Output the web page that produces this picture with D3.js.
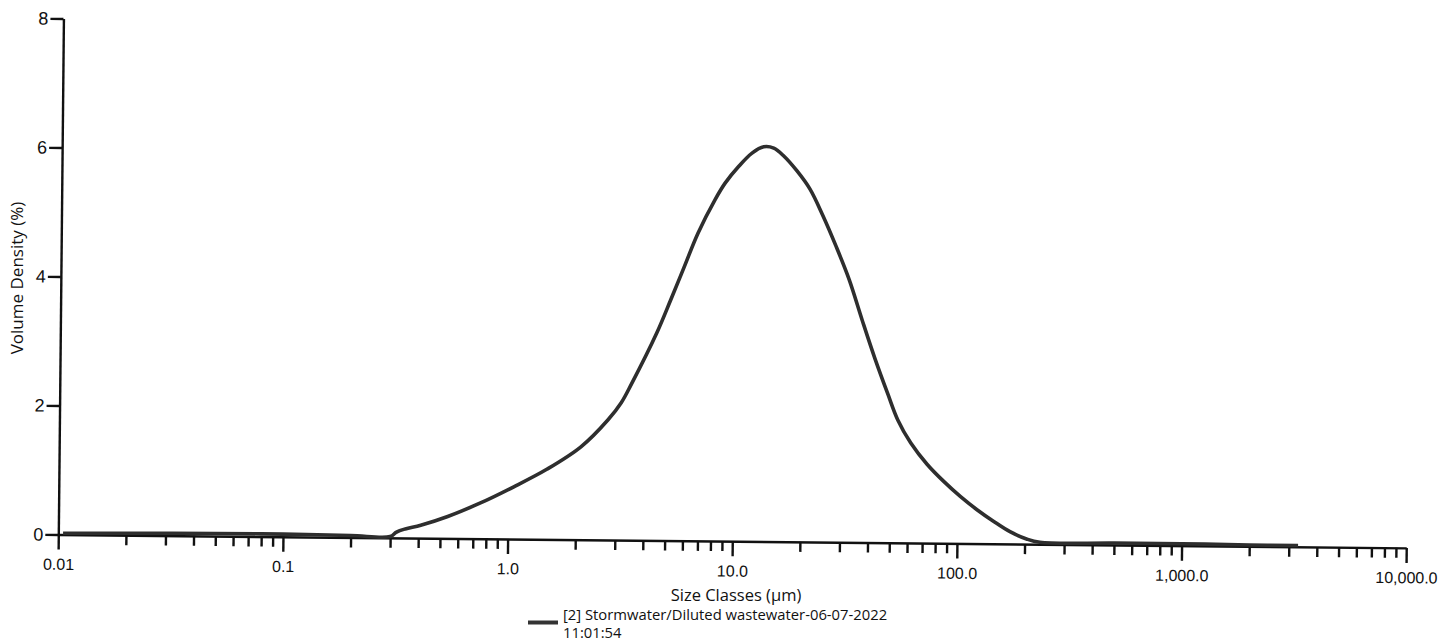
<!DOCTYPE html>
<html>
<head>
<meta charset="utf-8">
<style>
    body { margin: 0; background: #fff; }
    svg { display: block; font-family: "Open Sans", "Noto Sans", sans-serif; }
    .axis path, .axis line { stroke: #111; stroke-width: 2.4; }
    .axis text { fill: #111; }
</style>
</head>
<body>
<svg width="1439" height="641"></svg>
<script src="https://d3js.org/d3.v7.min.js"></script>
<script>
// particle size (µm) and volume density (%)
const sizes = [0.0105, 0.02, 0.05, 0.1, 0.2, 0.3, 0.32, 0.35, 0.41, 0.54, 0.75, 1.06, 1.49, 2.10, 2.76,
    3.16, 3.5, 4.52, 5.19, 5.95, 6.82, 8.09, 8.96, 10.27, 11.77, 13.27, 14.7, 16.3, 18.7, 21.4, 24.5,
    28.1, 32.3, 37.0, 42.4, 48.6, 53.8, 61.7, 73.2, 86.8, 103, 122, 145, 172, 204, 234,
    500, 1000, 2000, 3300];
const volumes = [0.02, 0.03, 0.04, 0.04, 0.03, 0.02, 0.09, 0.14, 0.20, 0.34, 0.55, 0.81, 1.09, 1.44, 1.86,
    2.13, 2.42, 3.22, 3.73, 4.25, 4.77, 5.29, 5.55, 5.81, 6.02, 6.12, 6.10, 5.98, 5.75, 5.47, 5.06,
    4.59, 4.07, 3.45, 2.85, 2.30, 1.91, 1.55, 1.22, 0.96, 0.73, 0.53, 0.35, 0.19, 0.08, 0.03,
    0.03, 0.03, 0.02, 0.02];

const xMajor = [0.01, 0.1, 1, 10, 100, 1000, 10000];
const xMajorLabels = ["0.01", "0.1", "1.0", "10.0", "100.0", "1,000.0", "10,000.0"];
const yTicks = [0, 2, 4, 6, 8];
const seriesName = ["[2] Stormwater/Diluted wastewater-06-07-2022", "11:01:54"];

let svg = d3.select("svg");

let width = 1348;
let height = 516;

let x = d3.scaleLog().domain([0.01, 10000]).range([0, width]);
let y = d3.scaleLinear().domain([0, 8]).range([0, -height]);

// minor ticks 2..9 in each decade
let xMinor = [];
for (let e = -2; e < 4; e++) {
    for (let m = 2; m <= 9; m++) xMinor.push(m * Math.pow(10, e));
}

// the scanned original is tilted a little, so the plot group is too
let g = svg.append("g")
    .attr("transform", "translate(58.3,534.5) rotate(0.57)");

g.append("g")
    .attr("class", "axis")
    .call(d3.axisBottom(x).tickValues(xMinor).tickSize(10).tickSizeOuter(0).tickFormat(""))
    .select(".domain").remove();

g.append("g")
    .attr("class", "axis")
    .call(d3.axisBottom(x).tickValues(xMajor).tickSize(15).tickSizeOuter(0).tickPadding(9)
        .tickFormat((d, i) => xMajorLabels[i]))
    .selectAll("text")
    .style("font-size", "16px");

g.append("g")
    .attr("class", "axis")
    .call(d3.axisLeft(y).tickValues(yTicks).tickSize(13).tickSizeOuter(0).tickPadding(2))
    .selectAll("text")
    .style("font-size", "18px");

let line = d3.line()
    .x((d, i) => x(sizes[i]))
    .y(d => y(d))
    .curve(d3.curveCatmullRom.alpha(0.5));

g.append("path")
    .datum(volumes)
    .attr("d", line)
    .attr("fill", "none")
    .attr("stroke", "#2e2e2e")
    .attr("stroke-width", 3.6)
    .attr("stroke-linejoin", "round");

svg.append("text")
    .attr("transform", "translate(23,278) rotate(-90)")
    .attr("text-anchor", "middle")
    .style("font-size", "17px")
    .attr("fill", "#111")
    .text("Volume Density (%)");

svg.append("text")
    .attr("x", 736)
    .attr("y", 601)
    .attr("text-anchor", "middle")
    .style("font-size", "16.5px")
    .attr("fill", "#111")
    .text("Size Classes (µm)");

// legend
svg.append("line")
    .attr("x1", 528).attr("x2", 558)
    .attr("y1", 622.5).attr("y2", 622.5)
    .attr("stroke", "#333")
    .attr("stroke-width", 4);

svg.selectAll(".legend-label")
    .data(seriesName)
    .join("text")
    .attr("class", "legend-label")
    .attr("x", 563)
    .attr("y", (d, i) => 620 + i * 18)
    .style("font-size", "14.8px")
    .attr("fill", "#111")
    .text(d => d);
</script>
</body>
</html>
